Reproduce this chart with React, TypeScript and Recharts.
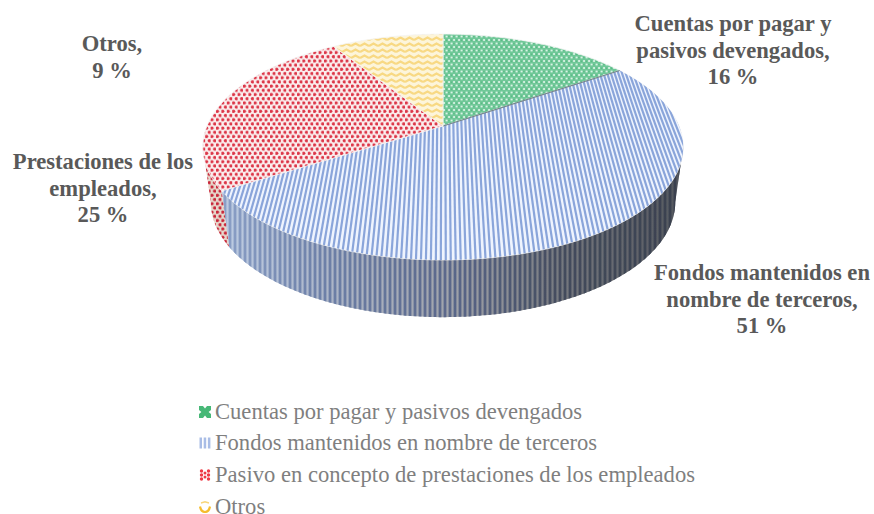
import React from 'react';
import { PieChart, Pie, Legend } from 'recharts';

const legendNames = [
  'Cuentas por pagar y pasivos devengados',
  'Fondos mantenidos en nombre de terceros',
  'Pasivo en concepto de prestaciones de los empleados',
  'Otros',
];
const labelLines = [
  ['Cuentas por pagar y', 'pasivos devengados,'],
  ['Fondos mantenidos en', 'nombre de terceros,'],
  ['Prestaciones de los', 'empleados,'],
  ['Otros,'],
];
const shares = [15.5, 50.5, 25.0, 9.0];
const fills = ['url(#ptGreen)', '#eff4fe', 'url(#ptRed)', 'url(#ptYellow)'];
const wallFills = ['none', 'url(#wallLight)', 'url(#ptRedWall)', 'none'];

const data = legendNames.map((name, i) => ({ name, value: shares[i], fill: fills[i] }));

// where each label block is centred, first baseline
const labelPos = [
  { x: 733, y: 31 },
  { x: 762, y: 280 },
  { x: 103, y: 169 },
  { x: 112, y: 51 },
];

const SERIF = '"Liberation Serif", "Times New Roman", serif';
const CX = 443;
const CY = 126;
const RADIUS = 236;
const SQUASH = 0.462;
const PERSP = 0.186;
const SIDE_LEFT = -10.7;
const SIDE_RIGHT = -169.3;
const TOP_STRIPE = 4.05;
const WALL_STRIPE = 5;

// tilted disc with perspective, x/y on the unit circle
const plane = (x: number, y: number) => {
  const w = 1 + PERSP * y;
  return [CX + (RADIUS * x) / w, CY - (RADIUS * SQUASH * y) / w];
};
const rim = (deg: number) => plane(Math.cos((deg * Math.PI) / 180), Math.sin((deg * Math.PI) / 180));
const drop = ([x, y]: number[]) => [CX + (x - CX) * 0.967, 205 + (y - 150) * 1.02];

const arcPoints = (from: number, to: number) => {
  const steps = Math.max(2, Math.ceil(Math.abs(from - to)));
  const pts: number[][] = [];
  for (let i = 0; i <= steps; i++) pts.push(rim(from + ((to - from) * i) / steps));
  return pts;
};
const toPath = (pts: number[][]) =>
  'M' + pts.map((p) => `${p[0].toFixed(2)},${p[1].toFixed(2)}`).join('L') + 'Z';

const TopSlice = (props: any) => {
  const { startAngle, endAngle, name, fill } = props;
  const i = legendNames.indexOf(name);
  const d = toPath([[CX, CY], ...arcPoints(startAngle, endAngle)]);
  const clipId = `topClip${i}`;
  const stripes: React.ReactNode[] = [];
  if (i === 1) {
    const du = TOP_STRIPE / RADIUS;
    for (let u = -1.02; u < 1.02; u += du) {
      const a = plane(u, -1.05);
      const b = plane(u, 1.05);
      stripes.push(<line key={u} x1={a[0]} y1={a[1]} x2={b[0]} y2={b[1]} stroke="#8aa5da" strokeWidth={2.2} />);
    }
  }
  return (
    <g filter="url(#soft)">
      <clipPath id={clipId}>
        <path d={d} />
      </clipPath>
      <path d={d} fill={fill} stroke="#f4f4f4" strokeWidth={0.8} />
      {i === 1 && (
        <g clipPath={`url(#${clipId})`}>
          {stripes}
        </g>
      )}
      {i === 1 && (() => {
        const e = rim(startAngle);
        return <line x1={CX} y1={CY} x2={e[0]} y2={e[1]} stroke="#74858a" strokeWidth={1.2} />;
      })()}
    </g>
  );
};

const WallSlice = (props: any) => {
  const { startAngle, endAngle, name } = props;
  const i = legendNames.indexOf(name);
  const from = Math.min(startAngle, SIDE_LEFT);
  const to = Math.max(endAngle, SIDE_RIGHT);
  if (from <= to) return <g />;
  const top = arcPoints(from, to);
  const d = toPath([...top, ...top.slice().reverse().map(drop)]);
  const clipId = `wallClip${i}`;
  const lines: React.ReactNode[] = [];
  if (i === 1) {
    for (let x = 200; x < 690; x += WALL_STRIPE) {
      lines.push(<line key={x} x1={x} y1={130} x2={x + 0.01} y2={325} stroke="url(#wallDark)" strokeWidth={2.8} />);
    }
  }
  return (
    <g filter="url(#soft)">
      <clipPath id={clipId}>
        <path d={d} />
      </clipPath>
      <path d={d} fill={wallFills[i]} />
      <g clipPath={`url(#${clipId})`}>{lines}</g>
    </g>
  );
};

const renderLabel = (props: any) => {
  const i = props.index;
  const pos = labelPos[i];
  const rows = [...labelLines[i], `${Math.round(shares[i])} %`];
  return (
    <text key={i} x={pos.x} y={pos.y} textAnchor="middle" fontFamily={SERIF} fontWeight="bold" fontSize={22.6} fill="#595959">
      {rows.map((r, n) => (
        <tspan key={n} x={pos.x} y={pos.y + n * 26.5}>
          {r}
        </tspan>
      ))}
    </text>
  );
};

const LegendIcon = ({ index }: { index: number }) => {
  let glyph: React.ReactNode = null;
  if (index === 0) {
    glyph = (
      <>
        <rect width="12" height="12" fill="#47b877" />
        <path d="M4,0 H8 L6,2.4Z M4,12 H8 L6,9.6Z M0,4 V8 L2.4,6Z M12,4 V8 L9.6,6Z" fill="#fff" />
      </>
    );
  } else if (index === 1) {
    glyph = (
      <>
        <rect x="0.5" y="0.5" width="2.5" height="11" fill="#a9bde6" />
        <rect x="4.7" y="0.5" width="2.5" height="11" fill="#a9bde6" />
        <rect x="8.9" y="0.5" width="2.5" height="11" fill="#a9bde6" />
      </>
    );
  } else if (index === 2) {
    glyph = (
      <>
        {[2, 6, 10].map((cy) => [2.5, 9.5].map((cx) => <circle key={`${cx}-${cy}`} cx={cx} cy={cy} r={1.7} fill="#ee3a46" />))}
        <circle cx={6} cy={4} r={1.5} fill="#ee3a46" />
        <circle cx={6} cy={8} r={1.5} fill="#ee3a46" />
      </>
    );
  } else {
    glyph = (
      <>
        <path d="M2,2 L6,0.8 L10,2" fill="none" stroke="#f8d67a" strokeWidth={1.4} />
        <path d="M1,5.5 Q2,11 6,11 Q10,11 11,5.5" fill="none" stroke="#f5bd2e" strokeWidth={2.2} />
      </>
    );
  }
  return (
    <svg width={12} height={12} style={{ flex: 'none', marginRight: 4 }}>
      {glyph}
    </svg>
  );
};

const LegendRows = () => (
  <div>
    {legendNames.map((name, i) => (
      <div
        key={name}
        style={{
          display: 'flex',
          alignItems: 'center',
          height: 31.6,
          lineHeight: '14px',
          fontFamily: SERIF,
          fontSize: 22.6,
          color: '#7f7f7f',
          whiteSpace: 'nowrap',
        }}
      >
        <LegendIcon index={i} />
        {name}
      </div>
    ))}
  </div>
);

const App = () => (
  <div style={{ position: 'absolute', left: 0, top: 0, width: 874, height: 514, background: '#fff', overflow: 'hidden' }}>
    <PieChart width={874} height={514} margin={{ top: 0, right: 0, bottom: 0, left: 0 }}>
      <defs>
        <filter id="soft" x="-5%" y="-5%" width="110%" height="110%">
          <feGaussianBlur stdDeviation="0.4" />
        </filter>
        <linearGradient id="wallLight" gradientUnits="userSpaceOnUse" x1="224" y1="0" x2="680" y2="0">
          <stop offset="0" stopColor="#bccbe2" />
          <stop offset="0.2" stopColor="#aeb8cb" />
          <stop offset="0.5" stopColor="#a0a3aa" />
          <stop offset="0.75" stopColor="#74777d" />
          <stop offset="1" stopColor="#55585f" />
        </linearGradient>
        <linearGradient id="wallDark" gradientUnits="userSpaceOnUse" x1="224" y1="0" x2="680" y2="0">
          <stop offset="0" stopColor="#8a9fc6" />
          <stop offset="0.2" stopColor="#6f82aa" />
          <stop offset="0.5" stopColor="#5a678a" />
          <stop offset="0.75" stopColor="#434b5c" />
          <stop offset="1" stopColor="#3a414f" />
        </linearGradient>
        <pattern id="ptGreen" patternUnits="userSpaceOnUse" width="5" height="7">
          <rect width="5" height="7" fill="#70c898" />
          <rect x="0.6" y="0.6" width="2" height="1.8" fill="#d9f3e5" />
          <rect x="3.1" y="4.1" width="2" height="1.8" fill="#d9f3e5" />
          <rect x="3.4" y="1.2" width="1" height="1" fill="#4cb07a" />
          <rect x="0.9" y="4.7" width="1" height="1" fill="#4cb07a" />
        </pattern>
        <pattern id="ptRed" patternUnits="userSpaceOnUse" width="5.4" height="8.4">
          <rect width="5.4" height="8.4" fill="#fbeeee" />
          <circle cx="1.35" cy="2.1" r="1.65" fill="#dc3446" />
          <circle cx="4.05" cy="6.3" r="1.65" fill="#dc3446" />
        </pattern>
        <pattern id="ptRedWall" patternUnits="userSpaceOnUse" width="5.4" height="8.4">
          <rect width="5.4" height="8.4" fill="#e6d8cc" />
          <circle cx="1.35" cy="2.1" r="1.7" fill="#c9283a" />
          <circle cx="4.05" cy="6.3" r="1.7" fill="#c9283a" />
        </pattern>
        <pattern id="ptYellow" patternUnits="userSpaceOnUse" width="9" height="6">
          <rect width="9" height="6" fill="#fdf5da" />
          <path d="M0,4 L4.5,1.6 L9,4" fill="none" stroke="#f8d984" strokeWidth={2.3} />
        </pattern>
      </defs>
      <Pie
        data={data}
        dataKey="value"
        nameKey="name"
        cx={CX}
        cy={CY}
        outerRadius={RADIUS}
        startAngle={90}
        endAngle={-270}
        legendType="none"
        shape={WallSlice}
        isAnimationActive={false}
      />
      <Pie
        data={data}
        dataKey="value"
        nameKey="name"
        cx={CX}
        cy={CY}
        outerRadius={RADIUS}
        startAngle={90}
        endAngle={-270}
        shape={TopSlice}
        label={renderLabel}
        labelLine={false}
        isAnimationActive={false}
      />
      <Legend
        layout="vertical"
        content={LegendRows}
        wrapperStyle={{ position: 'absolute', left: 199, top: 396, width: 600, height: 118 }}
      />
    </PieChart>
  </div>
);

export default App;
